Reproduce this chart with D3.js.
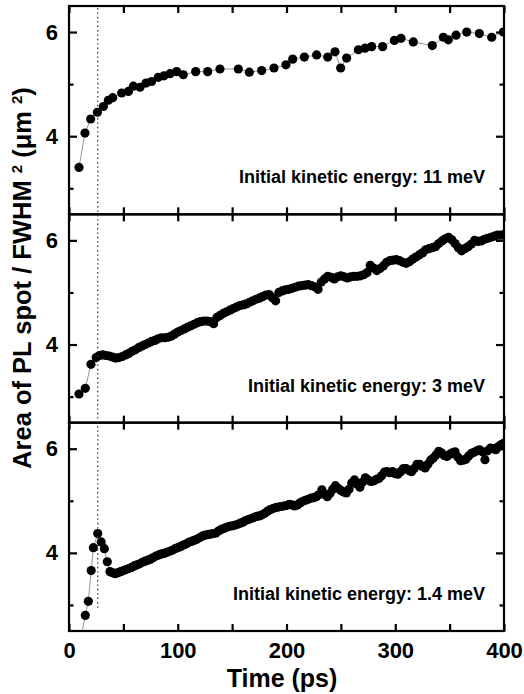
<!DOCTYPE html>
<html>
<head>
<meta charset="utf-8">
<script src="https://cdn.jsdelivr.net/npm/d3@7"></script>
<style>
  body { margin: 0; background: #fff; }
  text { font-family: "Liberation Sans", Arial, sans-serif; font-weight: bold; fill: #000; }
</style>
</head>
<body>
<div id="chart-area"></div>
<script>
// data: [time (ps), area (um^2)]
var energy11 = [
  [9.2,3.40],[14.7,4.06],[19.9,4.33],[26.1,4.46],[31.6,4.57],[36.2,4.69],[40.2,4.74],
  [48.4,4.83],[54.6,4.86],[59.2,4.96],[65.3,4.94],[70.8,5.02],[76.0,5.05],[82.1,5.13],
  [87.4,5.16],[92.9,5.20],[99.0,5.24],[105.1,5.18],[116.5,5.24],[127.5,5.24],[138.8,5.29],
  [155.7,5.29],[165.8,5.23],[177.2,5.26],[188.5,5.31],[199.5,5.37],[205.7,5.48],[216.4,5.52],
  [227.7,5.56],[237.9,5.52],[244.6,5.62],[249.8,5.31],[255.3,5.50],[266.1,5.66],[272.2,5.69],
  [278.3,5.72],[288.4,5.72],[299.2,5.84],[305.3,5.88],[316.6,5.81],[334.1,5.74],[344.2,5.90],
  [348.8,5.85],[355.9,5.94],[365.7,6.00],[377.3,5.97],[388.7,5.90],[399.4,6.00]
];

var energy3 = [
  [9.2,3.05],[15.0,3.16],[20.2,3.62],
  [25,3.75],[28,3.79],[31,3.80],[34,3.79],[37,3.78],[40,3.76],[43,3.74],[46,3.75],[49,3.77],
  [52,3.80],[55,3.83],[58,3.87],[61,3.90],[64,3.94],[67,3.97],[70,4.00],[73,4.03],[76,4.06],
  [79,4.08],[82,4.11],[85,4.13],[88,4.13],[91,4.14],[94,4.16],[97,4.20],[100,4.24],[103,4.27],
  [106,4.30],[109,4.33],[112,4.36],[115,4.39],[118,4.42],[121,4.44],[124,4.45],[127,4.45],
  [130,4.44],[133,4.40],[136,4.52],[139,4.56],[142,4.60],[145,4.63],[148,4.66],[151,4.69],
  [154,4.72],[157,4.75],[160,4.76],[163,4.78],[166,4.81],[169,4.84],[172,4.87],[175,4.89],
  [178,4.92],[181,4.95],[184,4.96],[187,4.90],[190,4.84],[193,5.00],[196,5.03],[199,5.05],
  [202,5.06],[205,5.08],[208,5.10],[211,5.12],[214,5.13],[217,5.14],[220,5.15],[223,5.13],
  [226,5.11],[229,5.06],[232,5.20],[235,5.26],[238,5.31],[241,5.29],[244,5.26],[247,5.30],
  [250,5.32],[253,5.30],[256,5.28],[259,5.30],[262,5.31],[265,5.31],[268,5.32],[271,5.34],
  [274,5.38],[277,5.52],[280,5.47],[283,5.42],[286,5.46],[289,5.51],[292,5.58],[295,5.61],
  [298,5.62],[301,5.63],[304,5.61],[307,5.58],[310,5.56],[313,5.59],[316,5.64],[319,5.68],
  [322,5.72],[325,5.76],[328,5.82],[331,5.84],[334,5.86],[337,5.88],[340,5.94],[343,5.99],
  [346,6.03],[349,6.06],[352,6.01],[355,5.94],[358,5.86],[361,5.80],[364,5.84],[367,5.88],
  [370,5.93],[373,6.00],[376,5.98],[379,5.99],[382,6.02],[385,6.04],[388,6.06],[391,6.08],
  [394,6.10],[397,6.10],[400,6.11]
];

var energy14 = [
  [9.5,2.20],[15.0,2.80],[17.8,3.07],[20.4,3.66],[22.4,4.10],[26.4,4.37],[29.6,4.21],
  [32.5,4.08],[35.2,3.83],[37.7,3.64],
  [40,3.62],[42.5,3.60],[45,3.62],[47.5,3.64],[50,3.66],[52.5,3.68],[55,3.70],[57.5,3.72],
  [60,3.75],[62.5,3.77],[65,3.79],[67.5,3.82],[70,3.84],[72.5,3.86],[75,3.88],[77.5,3.91],
  [80,3.94],[82.5,3.96],[85,3.98],[87.5,3.99],[90,4.01],[92.5,4.03],[95,4.05],[97.5,4.08],
  [100,4.10],[102.5,4.12],[105,4.15],[107.5,4.17],[110,4.20],[112.5,4.22],[115,4.24],
  [117.5,4.26],[120,4.29],[122.5,4.32],[125,4.34],[127.5,4.35],[130,4.36],[132.5,4.37],
  [135,4.38],[137.5,4.42],[140,4.45],[142.5,4.47],[145,4.49],[147.5,4.51],[150,4.52],
  [152.5,4.53],[155,4.55],[157.5,4.57],[160,4.59],[162.5,4.62],[165,4.64],[167.5,4.66],
  [170,4.68],[172.5,4.70],[175,4.71],[177.5,4.73],[180,4.76],[182.5,4.80],[185,4.83],
  [187.5,4.85],[190,4.87],[192.5,4.88],[195,4.89],[197.5,4.90],[200,4.91],[202.5,4.93],
  [205,4.92],[207.5,4.90],[210,4.92],[212.5,4.96],[215,4.99],[217.5,5.01],[220,5.03],
  [222.5,5.05],[225,5.06],[227.5,5.08],[230,5.12],[232.5,5.21],[235,5.12],[237.5,5.08],
  [240,5.14],[242.5,5.22],[245,5.29],[247.5,5.24],[250,5.20],[252.5,5.17],[255,5.15],
  [257.5,5.22],[260,5.34],[262.5,5.40],[265,5.32],[267.5,5.26],[270,5.36],[272.5,5.44],
  [275,5.40],[277.5,5.37],[280,5.38],[282.5,5.41],[285,5.43],[287.5,5.48],[290,5.55],
  [292.5,5.56],[295,5.54],[297.5,5.56],[300,5.52],[302.5,5.51],[305,5.56],[307.5,5.62],
  [310,5.62],[312.5,5.58],[315,5.56],[317.5,5.62],[320,5.70],[322.5,5.70],[325,5.66],
  [327.5,5.63],[330,5.70],[332.5,5.78],[335,5.82],[337.5,5.88],[340,5.95],[342.5,5.92],
  [345,5.87],[347.5,5.85],[350,5.89],[352.5,5.92],[355,5.94],[357.5,5.84],[360,5.77],
  [362.5,5.78],[365,5.80],[367.5,5.86],[370,5.91],[372.5,5.93],[375,5.96],[377.5,5.98],
  [380,5.94],[382.5,5.79],[385,5.96],[387.5,6.01],[390,6.00],[392.5,5.98],[395,6.04],
  [397.5,6.08],[400,6.11]
];

var panelSeries = [energy11, energy3, energy14];
var panelLabels = [
  "Initial kinetic energy: 11 meV",
  "Initial kinetic energy: 3 meV",
  "Initial kinetic energy: 1.4 meV"
];
var xTickValues = [0, 50, 100, 150, 200, 250, 300, 350, 400];
var yMajorTicks = [4, 6];
var yMinorTicks = [3, 5];
var xDomain = [0, 400];
var yDomain = [2.5, 6.5];
var dottedTime = 26.4;     // vertical dotted marker
var dottedEnd = 2.93;      // where it stops in the lowest panel

var svgWidth = 524, svgHeight = 694;
var margin = { top: 6, right: 20, bottom: 63, left: 69 };
var plotW = svgWidth - margin.left - margin.right;
var panelH = (svgHeight - margin.top - margin.bottom) / 3;

var svg = d3.select("#chart-area").append("svg")
  .attr("width", svgWidth)
  .attr("height", svgHeight);

var x = d3.scaleLinear().domain(xDomain).range([0, plotW]);
var y = d3.scaleLinear().domain(yDomain).range([panelH, 0]);

var line = d3.line()
  .x(d => x(d[0]))
  .y(d => y(d[1]));

var root = svg.append("g")
  .attr("transform", `translate(${margin.left},${margin.top})`);

svg.append("defs").append("clipPath")
  .attr("id", "panel-clip")
  .append("rect")
  .attr("width", plotW)
  .attr("height", panelH);

panelSeries.forEach(function(series, i)
{
  var g = root.append("g")
    .attr("transform", `translate(0,${i * panelH})`);

  var plot = g.append("g").attr("clip-path", "url(#panel-clip)");

  plot.append("path")
    .datum(series)
    .attr("fill", "none")
    .attr("stroke", "#7a7a7a")
    .attr("stroke-width", 0.8)
    .attr("d", line);

  plot.selectAll("circle")
    .data(series)
    .enter()
    .append("circle")
    .attr("cx", d => x(d[0]))
    .attr("cy", d => y(d[1]))
    .attr("r", 4.6)
    .attr("fill", "#000");

  // x ticks, inward on top and bottom
  var isLast = (i == panelSeries.length - 1);
  g.append("g")
    .attr("class", "axis")
    .attr("transform", `translate(0,${panelH})`)
    .call(d3.axisBottom(x)
      .tickValues(xTickValues)
      .tickSize(-7)
      .tickPadding(11)
      .tickFormat(d => (isLast && d % 100 == 0) ? d : ""));

  g.append("g")
    .attr("class", "axis")
    .call(d3.axisTop(x).tickValues(xTickValues).tickSize(-7).tickFormat(""));

  // y ticks
  g.append("g")
    .attr("class", "axis ylab")
    .call(d3.axisLeft(y).tickValues(yMajorTicks).tickSize(-8).tickPadding(11).tickFormat(d3.format("d")));
  g.append("g")
    .attr("class", "axis")
    .call(d3.axisLeft(y).tickValues(yMinorTicks).tickSize(-4.5).tickFormat(""));
  g.append("g")
    .attr("class", "axis")
    .attr("transform", `translate(${plotW},0)`)
    .call(d3.axisRight(y).tickValues(yMajorTicks).tickSize(-8).tickFormat(""));
  g.append("g")
    .attr("class", "axis")
    .attr("transform", `translate(${plotW},0)`)
    .call(d3.axisRight(y).tickValues(yMinorTicks).tickSize(-4.5).tickFormat(""));

  g.append("rect")
    .attr("width", plotW)
    .attr("height", panelH)
    .attr("fill", "none")
    .attr("stroke", "#000")
    .attr("stroke-width", 2.2);

  g.append("text")
    .attr("x", plotW - 19)
    .attr("y", panelH - 31)
    .attr("text-anchor", "end")
    .style("font-size", "18px")
    .text(panelLabels[i]);
});

root.selectAll(".axis .domain").remove();
root.selectAll(".axis line")
  .attr("stroke", "#000")
  .attr("stroke-width", 2.2);
root.selectAll(".axis text")
  .attr("fill", "#000")
  .style("font-size", "22px")
  .style("font-family", "'Liberation Sans', Arial, sans-serif")
  .style("font-weight", "bold");

// dotted guide across all panels
root.append("line")
  .attr("x1", x(dottedTime))
  .attr("x2", x(dottedTime))
  .attr("y1", 2)
  .attr("y2", 2 * panelH + y(dottedEnd))
  .attr("stroke", "#333")
  .attr("stroke-width", 1.3)
  .attr("stroke-dasharray", "1.4,3");

// axis titles
var yTitle = svg.append("text")
  .attr("transform", "translate(31,278) rotate(-90)")
  .attr("text-anchor", "middle")
  .style("font-size", "25.5px");
yTitle.append("tspan").text("Area of PL spot / FWHM ");
yTitle.append("tspan").attr("dy", -9).style("font-size", "15px").text("2");
yTitle.append("tspan").attr("dy", 9).text(" (\u03bcm ");
yTitle.append("tspan").attr("dy", -9).style("font-size", "15px").text("2");
yTitle.append("tspan").attr("dy", 9).text(")");

svg.append("text")
  .attr("x", 282)
  .attr("y", 687)
  .attr("text-anchor", "middle")
  .style("font-size", "25px")
  .text("Time (ps)");
</script>
</body>
</html>
